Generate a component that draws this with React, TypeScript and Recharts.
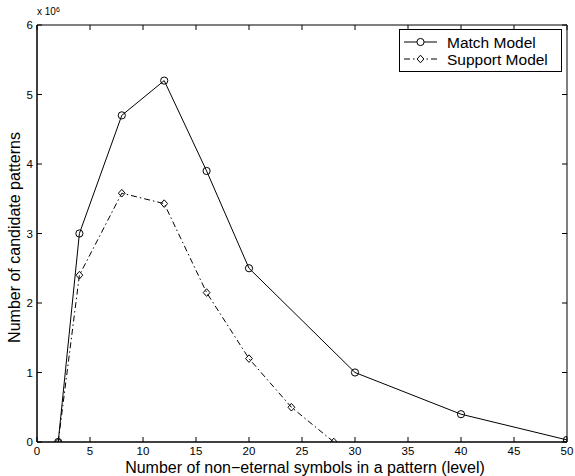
import { Line, LineChart, ReferenceLine, XAxis, YAxis } from "recharts"

// level = number of non-eternal symbols, counts in units of 10^6
const xTicks = [0, 5, 10, 15, 20, 25, 30, 35, 40, 45, 50]
const yTicks = [0, 1, 2, 3, 4, 5, 6]

const matchLevels = [2, 4, 8, 12, 16, 20, 30, 40, 50]
const matchCounts = [0, 3.0, 4.7, 5.2, 3.9, 2.5, 1.0, 0.4, 0.03]

const supportLevels = [2, 4, 8, 12, 16, 20, 24, 28]
const supportCounts = [0, 2.4, 3.58, 3.43, 2.15, 1.2, 0.5, 0]

const matchData = matchLevels.map((level, i) => ({ level, count: matchCounts[i] }))
const supportData = supportLevels.map((level, i) => ({ level, count: supportCounts[i] }))

const FONT = '"Liberation Sans", Arial, Helvetica, sans-serif'
const DASH_DOT = "6 3 1.5 3"
const TICK_LEN = 5

const CircleDot = (props: any) => {
  const { cx, cy } = props
  if (cx == null || cy == null) return null
  return <circle cx={cx} cy={cy} r={3.6} fill="none" stroke="#000" strokeWidth={1} />
}

const DiamondDot = (props: any) => {
  const { cx, cy } = props
  if (cx == null || cy == null) return null
  return (
    <path
      d={`M${cx},${cy - 3.8} L${cx + 3.4},${cy} L${cx},${cy + 3.8} L${cx - 3.4},${cy} Z`}
      fill="none"
      stroke="#000"
      strokeWidth={1}
    />
  )
}

// inward tick marks at both ends of a vertical reference line (bottom + top of box)
const VStubs = (props: any) => {
  const { x1, y1, y2 } = props
  const top = Math.min(y1, y2)
  const bottom = Math.max(y1, y2)
  return (
    <g>
      <line x1={x1} x2={x1} y1={bottom} y2={bottom - TICK_LEN} stroke="#000" strokeWidth={1} />
      <line x1={x1} x2={x1} y1={top} y2={top + TICK_LEN} stroke="#000" strokeWidth={1} />
    </g>
  )
}

// inward tick marks at both ends of a horizontal reference line (left + right of box)
const HStubs = (props: any) => {
  const { x1, x2, y1 } = props
  const left = Math.min(x1, x2)
  const right = Math.max(x1, x2)
  return (
    <g>
      <line x1={left} x2={left + TICK_LEN} y1={y1} y2={y1} stroke="#000" strokeWidth={1} />
      <line x1={right} x2={right - TICK_LEN} y1={y1} y2={y1} stroke="#000" strokeWidth={1} />
    </g>
  )
}

const XLabel = ({ viewBox }: any) => (
  <text
    x={viewBox.x + viewBox.width / 2 + 3}
    y={473}
    textAnchor="middle"
    fontFamily={FONT}
    fontSize={16}
    fill="#000"
  >
    Number of non−eternal symbols in a pattern (level)
  </text>
)

const YLabel = ({ viewBox }: any) => {
  const cy = viewBox.y + viewBox.height / 2 + 4
  return (
    <text
      x={20}
      y={cy}
      transform={`rotate(-90, 20, ${cy})`}
      textAnchor="middle"
      fontFamily={FONT}
      fontSize={16}
      fill="#000"
    >
      Number of candidate patterns
    </text>
  )
}

function LegendBox() {
  return (
    <svg
      width={164}
      height={44}
      style={{ position: "absolute", left: 399, top: 29 }}
    >
      <rect x={0.5} y={0.5} width={162} height={42} fill="#fff" stroke="#000" strokeWidth={1} />
      <line x1={5} x2={38} y1={13} y2={13} stroke="#000" strokeWidth={1} />
      <circle cx={21.5} cy={13} r={3.6} fill="#fff" stroke="#000" strokeWidth={1} />
      <text x={48} y={18.5} fontFamily={FONT} fontSize={15.5} fill="#000">Match Model</text>
      <line x1={5} x2={38} y1={30} y2={30} stroke="#000" strokeWidth={1} strokeDasharray={DASH_DOT} />
      <path d="M21.5,26.2 L24.9,30 L21.5,33.8 L18.1,30 Z" fill="#fff" stroke="#000" strokeWidth={1} />
      <text x={48} y={35.5} fontFamily={FONT} fontSize={15.5} fill="#000">Support Model</text>
    </svg>
  )
}

export default function App() {
  const tickStyle = { fontFamily: FONT, fontSize: 11.5, fill: "#000" }
  return (
    <div style={{ position: "absolute", left: 0, top: 0, width: 575, height: 476, background: "#fff" }}>
      <LineChart
        width={575}
        height={476}
        margin={{ top: 25, right: 8, left: 0, bottom: 0 }}
        style={{ fontFamily: FONT }}
      >
        <XAxis
          dataKey="level"
          type="number"
          domain={[0, 50]}
          ticks={xTicks}
          allowDataOverflow
          height={34}
          axisLine={{ stroke: "#000", strokeWidth: 1.5 }}
          tickLine={false}
          tickSize={0}
          tickMargin={5}
          tick={tickStyle}
          label={<XLabel />}
        />
        <YAxis
          type="number"
          domain={[0, 6]}
          ticks={yTicks}
          allowDataOverflow
          width={37}
          axisLine={{ stroke: "#000", strokeWidth: 1.5 }}
          tickLine={false}
          tickSize={0}
          tickMargin={4}
          tick={tickStyle}
          label={<YLabel />}
        />
        {/* box: top and right edges */}
        <ReferenceLine y={6} stroke="#000" strokeWidth={1} />
        <ReferenceLine x={50} stroke="#000" strokeWidth={1} />
        {xTicks.map((t) => (
          <ReferenceLine key={`xt${t}`} x={t} shape={<VStubs />} />
        ))}
        {yTicks.map((t) => (
          <ReferenceLine key={`yt${t}`} y={t} shape={<HStubs />} />
        ))}
        <Line
          data={matchData}
          dataKey="count"
          type="linear"
          stroke="#000"
          strokeWidth={1}
          dot={<CircleDot />}
          activeDot={false}
          isAnimationActive={false}
        />
        <Line
          data={supportData}
          dataKey="count"
          type="linear"
          stroke="#000"
          strokeWidth={1}
          strokeDasharray={DASH_DOT}
          dot={<DiamondDot />}
          activeDot={false}
          isAnimationActive={false}
        />
      </LineChart>
      <div
        style={{
          position: "absolute",
          left: 37,
          top: 6,
          fontFamily: FONT,
          fontSize: 10,
          lineHeight: "12px",
          color: "#000",
          whiteSpace: "nowrap",
        }}
      >
        x 10<sup style={{ fontSize: 7, verticalAlign: "top", position: "relative", top: -2 }}>6</sup>
      </div>
      <LegendBox />
    </div>
  )
}
